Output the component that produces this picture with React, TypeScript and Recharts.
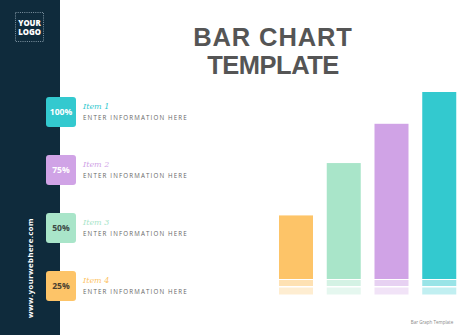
import React from "react";
import { BarChart, Bar, XAxis, YAxis, Cell } from "recharts";

// legend rows, top to bottom
const items = ["Item 1", "Item 2", "Item 3", "Item 4"];
const percentLabels = ["100%", "75%", "50%", "25%"];
const barValues = [100, 83, 62, 34];
const colors = ["#33c9cf", "#d0a3e6", "#a9e5c9", "#fdc468"];
const badgeTextColors = ["#ffffff", "#ffffff", "#3d4a45", "#4a4030"];

// bars are drawn left to right from the smallest
const chartData = items
  .map((name, i) => ({ name, value: barValues[i], color: colors[i] }))
  .reverse();

const NAVY = "#0f2b3c";

function ReflectedBar(props: any) {
  const { x, y, width, height, fill } = props;
  if (width == null || height == null) return null;
  const base = y + height;
  return (
    <g>
      <rect x={x} y={y} width={width} height={height} fill={fill} />
      <rect x={x} y={base + 1} width={width} height={6} fill={fill} opacity={0.5} />
      <rect x={x} y={base + 8.5} width={width} height={7} fill={fill} opacity={0.3} />
    </g>
  );
}

function Overlay() {
  const rowTop = [97, 155, 213, 271];
  return (
    <svg
      width={475}
      height={335}
      style={{ position: "absolute", left: 0, top: 0, pointerEvents: "none" }}
    >
      <rect x={0} y={0} width={60} height={335} fill={NAVY} />
      {/* logo */}
      <rect
        x={15.5}
        y={12.5}
        width={28}
        height={29}
        fill="none"
        stroke="#9fb3c0"
        strokeWidth={0.8}
        strokeDasharray="1 1.2"
      />
      <text x={29.5} y={26} textAnchor="middle" fill="#fff" fontFamily="Open Sans" fontWeight={800} fontSize={7.8}>
        YOUR
      </text>
      <text x={29.5} y={35} textAnchor="middle" fill="#fff" fontFamily="Open Sans" fontWeight={800} fontSize={7.8}>
        LOGO
      </text>
      {/* title */}
      <text x={273} y={45.5} textAnchor="middle" fill="#555" fontFamily="Liberation Sans" fontWeight={700} fontSize={25.5} letterSpacing={0.9}>
        BAR CHART
      </text>
      <text x={273} y={74} textAnchor="middle" fill="#555" fontFamily="Liberation Sans" fontWeight={700} fontSize={25.5} letterSpacing={-0.5}>
        TEMPLATE
      </text>
      {/* legend rows */}
      {items.map((name, i) => (
        <g key={name}>
          <rect x={46} y={rowTop[i]} width={30} height={30} rx={3} fill={colors[i]} />
          <text
            x={61}
            y={rowTop[i] + 18}
            textAnchor="middle"
            fill={badgeTextColors[i]}
            fontFamily="Open Sans"
            fontWeight={700}
            fontSize={8.6}
          >
            {percentLabels[i]}
          </text>
          <text
            x={83}
            y={rowTop[i] + 12}
            fill={colors[i]}
            fontFamily="DejaVu Serif"
            fontStyle="italic"
            fontSize={8}
          >
            {name}
          </text>
          <text
            x={83}
            y={rowTop[i] + 23}
            fill="#666"
            fontFamily="Open Sans"
            fontSize={6.2}
            letterSpacing={1.15}
          >
            ENTER INFORMATION HERE
          </text>
        </g>
      ))}
      {/* website */}
      <text
        transform="translate(33,268) rotate(-90)"
        textAnchor="middle"
        fill="#fff"
        fontFamily="Open Sans"
        fontWeight={700}
        fontSize={7.6}
        letterSpacing={0.5}
      >
        www.yourwebhere.com
      </text>
      <text x={432} y={324} textAnchor="middle" fill="#888" fontFamily="Open Sans" fontSize={4.5}>
        Bar Graph Template
      </text>
    </svg>
  );
}

export default function App() {
  return (
    <div style={{ position: "fixed", left: 0, top: 0, width: 475, height: 335, background: "#fff" }}>
      <BarChart
        width={475}
        height={335}
        data={chartData}
        margin={{ top: 92, right: 12, bottom: 56, left: 272 }}
        barCategoryGap={14}
      >
        <XAxis dataKey="name" hide />
        <YAxis hide domain={[0, 100]} />
        <Bar dataKey="value" barSize={34} isAnimationActive={false} shape={ReflectedBar}>
          {chartData.map((d) => (
            <Cell key={d.name} fill={d.color} />
          ))}
        </Bar>
      </BarChart>
      <Overlay />
    </div>
  );
}
